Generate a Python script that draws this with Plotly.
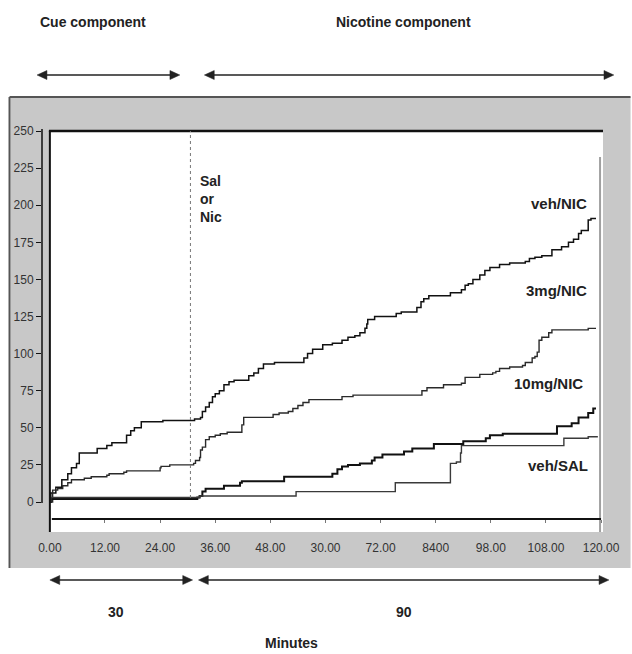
import plotly.graph_objects as go

# ---------------- data ----------------
tick_vals = [0, 12, 24, 36, 48, 60, 72, 84, 96, 108, 120]
tick_text = ["0.00", "12.00", "24.00", "36.00", "48.00", "30.00", "72.00", "8400", "98.00", "108.00", "120.00"]
y_ticks = [0, 25, 50, 75, 100, 125, 150, 175, 200, 225, 250]

veh_nic_min = [0, 0.2, 1.3, 2.6, 3.9, 4.7, 5.8, 6.4, 10.3, 12.4, 13.5, 16.7, 17.6, 18.4, 19.9, 24.6,
               31.5, 32.8, 33.2, 33.9, 34.7, 35.4, 36.0, 36.9, 37.9, 39.0, 40.1, 43.3, 44.4, 45.4, 46.5, 48.9,
               55.3, 56.1, 57.2, 59.4, 61.5, 63.6, 64.9, 66.4, 67.5, 68.6, 69.0, 69.2, 70.7,
               75.4, 76.5, 79.9, 80.8, 81.4, 82.5, 87.2, 89.6, 90.4, 91.1, 92.1, 93.6, 94.7, 95.8, 97.9,
               100.1, 103.5, 104.4, 105.6, 107.1, 109.3, 111.4, 112.9, 114.0, 115.1, 115.7, 117.2, 117.8, 118.9]
veh_nic_val = [0, 6, 10, 15, 19, 23, 26, 33, 36, 38, 40, 45, 48, 50, 54, 55,
               56, 57, 61, 64, 67, 71, 73, 75, 79, 81, 82, 85, 87, 90, 93, 94,
               97, 100, 103, 106, 107, 109, 111, 112, 114, 117, 120, 123, 125,
               127, 128, 131, 135, 137, 139, 141, 143, 146, 147, 150, 153, 156, 158, 160,
               161, 162, 164, 165, 166, 170, 172, 175, 177, 181, 183, 190, 191, 191]

mg3_nic_min = [0, 0.6, 1.7, 2.8, 3.9, 4.7, 7.5, 9.0, 12.4, 12.9, 16.1, 16.7, 24.0, 24.2, 26.1,
               31.3, 31.7, 32.6, 32.8, 33.2, 33.9, 34.7, 36.0, 37.1, 38.6,
               41.8, 42.2, 48.6, 49.9, 51.9, 52.9, 54.0, 55.1, 56.4,
               63.6, 66.0, 81.0, 82.1, 85.7, 89.6, 90.4, 93.6,
               96.4, 97.1, 97.9, 100.1, 102.9, 103.5, 105.0, 105.6, 106.1, 106.5, 107.1, 108.6, 109.3,
               117.2, 118.9]
mg3_nic_val = [0, 8, 9, 11, 13, 15, 16, 17, 18, 19, 20, 21, 23, 24, 25,
               26, 28, 30, 35, 37, 42, 44, 45, 46, 47,
               52, 57, 59, 60, 61, 63, 65, 67, 69,
               71, 72, 75, 77, 79, 80, 84, 86,
               87, 88, 90, 91, 92, 94, 97, 98, 101, 109, 111, 114, 116,
               117, 117]

mg10_nic_min = [0, 0.2, 32.1, 32.6, 33.2, 33.9, 37.9, 41.4, 41.8, 51.0,
                61.5, 62.6, 63.6, 64.9, 67.5, 70.1, 70.7, 72.4, 77.1, 78.9,
                83.6, 90.0, 94.9, 95.8, 98.6, 110.4, 113.6, 115.1, 117.2, 118.3, 118.9]
mg10_nic_val = [0, 2, 3, 4, 7, 9, 11, 13, 14, 17,
                19, 22, 24, 25, 26, 28, 30, 32, 34, 36,
                39, 41, 43, 45, 46, 51, 53, 57, 60, 63, 63]

veh_sal_min = [0, 0.2, 32.6, 53.6, 75.2, 87.2, 88.5, 89.4, 89.6, 111.9, 117.2, 119.3]
veh_sal_val = [0, 3, 4, 7, 13, 26, 27, 33, 38, 43, 44, 44]

series_names = ["veh/NIC", "3mg/NIC", "10mg/NIC", "veh/SAL"]
injection_min = 30.6

# ---------------- layout geometry ----------------
W, H = 632, 654
L, R, T, B = 42, 20, 131, 122
PW, PH = W - L - R, H - T - B


def px(x):
    return (x - L) / PW


def py(y):
    return (H - B - y) / PH


TICKFONT = "Liberation Sans, Arial, sans-serif"
SANS = "Liberation Sans, Arial, sans-serif"

fig = go.Figure()
styles = [
    dict(color="#111111", width=1.5),
    dict(color="#2a2a2a", width=1.4),
    dict(color="#111111", width=2.0),
    dict(color="#3a3a3a", width=1.4),
]
for (xs, ys), nm, st in zip(
    [(veh_nic_min, veh_nic_val), (mg3_nic_min, mg3_nic_val),
     (mg10_nic_min, mg10_nic_val), (veh_sal_min, veh_sal_val)],
    series_names, styles):
    fig.add_trace(go.Scatter(x=xs, y=ys, mode="lines", name=nm,
                             line=dict(shape="hv", **st), hoverinfo="skip"))

shapes = []
# gray panel
shapes.append(dict(type="rect", xref="paper", yref="paper", layer="below",
                   x0=px(10), x1=px(640), y0=py(568), y1=py(97),
                   fillcolor="#c8c8c8", line=dict(width=0)))
# white plot area
shapes.append(dict(type="rect", xref="paper", yref="paper", layer="below",
                   x0=px(50), x1=px(612), y0=py(532), y1=py(131),
                   fillcolor="#ffffff", line=dict(width=0)))
# panel bevel
shapes.append(dict(type="line", xref="paper", yref="paper", x0=px(9), x1=px(640),
                   y0=py(97), y1=py(97), line=dict(color="#555555", width=2)))
shapes.append(dict(type="line", xref="paper", yref="paper", x0=px(9), x1=px(9),
                   y0=py(97), y1=py(568), line=dict(color="#555555", width=2)))
# plot frame
shapes.append(dict(type="line", xref="paper", yref="paper", x0=px(49), x1=px(612),
                   y0=py(131), y1=py(131), line=dict(color="#111111", width=2.5)))
shapes.append(dict(type="line", xref="paper", yref="paper", x0=px(50), x1=px(50),
                   y0=py(131), y1=py(532), line=dict(color="#111111", width=2)))
shapes.append(dict(type="line", xref="paper", yref="paper", x0=px(609), x1=px(609),
                   y0=py(157), y1=py(532), line=dict(color="#a0a0a0", width=2)))
# y axis line
shapes.append(dict(type="line", xref="paper", yref="paper", x0=px(42), x1=px(42),
                   y0=py(129), y1=py(503), line=dict(color="#111111", width=1.5)))
# x axis line
shapes.append(dict(type="line", xref="paper", yref="paper", x0=px(52), x1=px(610),
                   y0=py(519), y1=py(519), line=dict(color="#111111", width=2)))
# injection dotted line
shapes.append(dict(type="line", xref="x", yref="paper", x0=injection_min, x1=injection_min,
                   y0=py(498), y1=py(131), line=dict(color="#777777", width=1, dash="dot")))


def arrow(x0, x1, y, color="#222222"):
    s = [dict(type="line", xref="paper", yref="paper", x0=px(x0 + 6), x1=px(x1 - 6),
              y0=py(y), y1=py(y), line=dict(color=color, width=1.5))]
    s.append(dict(type="path", xref="paper", yref="paper",
                  path=f"M {px(x0)},{py(y)} L {px(x0 + 10)},{py(y - 4.5)} L {px(x0 + 10)},{py(y + 4.5)} Z",
                  fillcolor=color, line=dict(color=color, width=0.5)))
    s.append(dict(type="path", xref="paper", yref="paper",
                  path=f"M {px(x1)},{py(y)} L {px(x1 - 10)},{py(y - 4.5)} L {px(x1 - 10)},{py(y + 4.5)} Z",
                  fillcolor=color, line=dict(color=color, width=0.5)))
    return s


shapes += arrow(37, 182, 75)
shapes += arrow(207, 623, 75)
shapes += arrow(50, 195, 580)
shapes += arrow(201, 618, 580)

annotations = []


def label(text, x, y, size=15, xanchor="center", yanchor="middle", family=SANS, align="center"):
    annotations.append(dict(text=text, xref="paper", yref="paper", x=px(x), y=py(y),
                            xanchor=xanchor, yanchor=yanchor, showarrow=False, align=align,
                            font=dict(family=family, size=size, color="#222222")))


label("<b>Cue component</b>", 94, 22, size=14)
label("<b>Nicotine component</b>", 409, 22, size=14)
label("<b>30</b>", 117, 612, size=14)
label("<b>90</b>", 410, 612, size=14)
label("<b>Minutes</b>", 296, 643, size=14)
label("<b>veh/NIC</b>", 567, 203)
label("<b>3mg/NIC</b>", 565, 290)
label("<b>10mg/NIC</b>", 557, 383)
label("<b>veh/SAL</b>", 566, 465)
label("<b>Sal</b><br><b>or</b><br><b>Nic</b>", 201, 171, size=14, xanchor="left", yanchor="top", align="left")

fig.update_layout(
    width=W, height=H,
    margin=dict(l=L, r=R, t=T, b=B, pad=0),
    paper_bgcolor="#ffffff", plot_bgcolor="#ffffff",
    showlegend=False,
    shapes=shapes, annotations=annotations,
    xaxis=dict(range=[(42 - 50) / 4.667, (612 - 50) / 4.667], tickvals=tick_vals, ticktext=tick_text,
               showgrid=False, zeroline=False, showline=False, anchor="free", position=(532 - 519) / PH,
               ticks="outside", ticklen=3, tickcolor="#777777", ticklabelstandoff=15,
               tickfont=dict(family=TICKFONT, size=12, color="#333333"), fixedrange=True),
    yaxis=dict(range=[(502 - 532) / 1.484, 250], tickvals=y_ticks,
               showgrid=False, zeroline=False, showline=False,
               ticks="outside", ticklen=5, tickcolor="#111111", tickwidth=1.2,
               tickfont=dict(family=TICKFONT, size=12, color="#333333"), fixedrange=True),
)

fig.write_html("out.html", config={"displayModeBar": False},
               post_script="document.body.style.margin='0px';")
